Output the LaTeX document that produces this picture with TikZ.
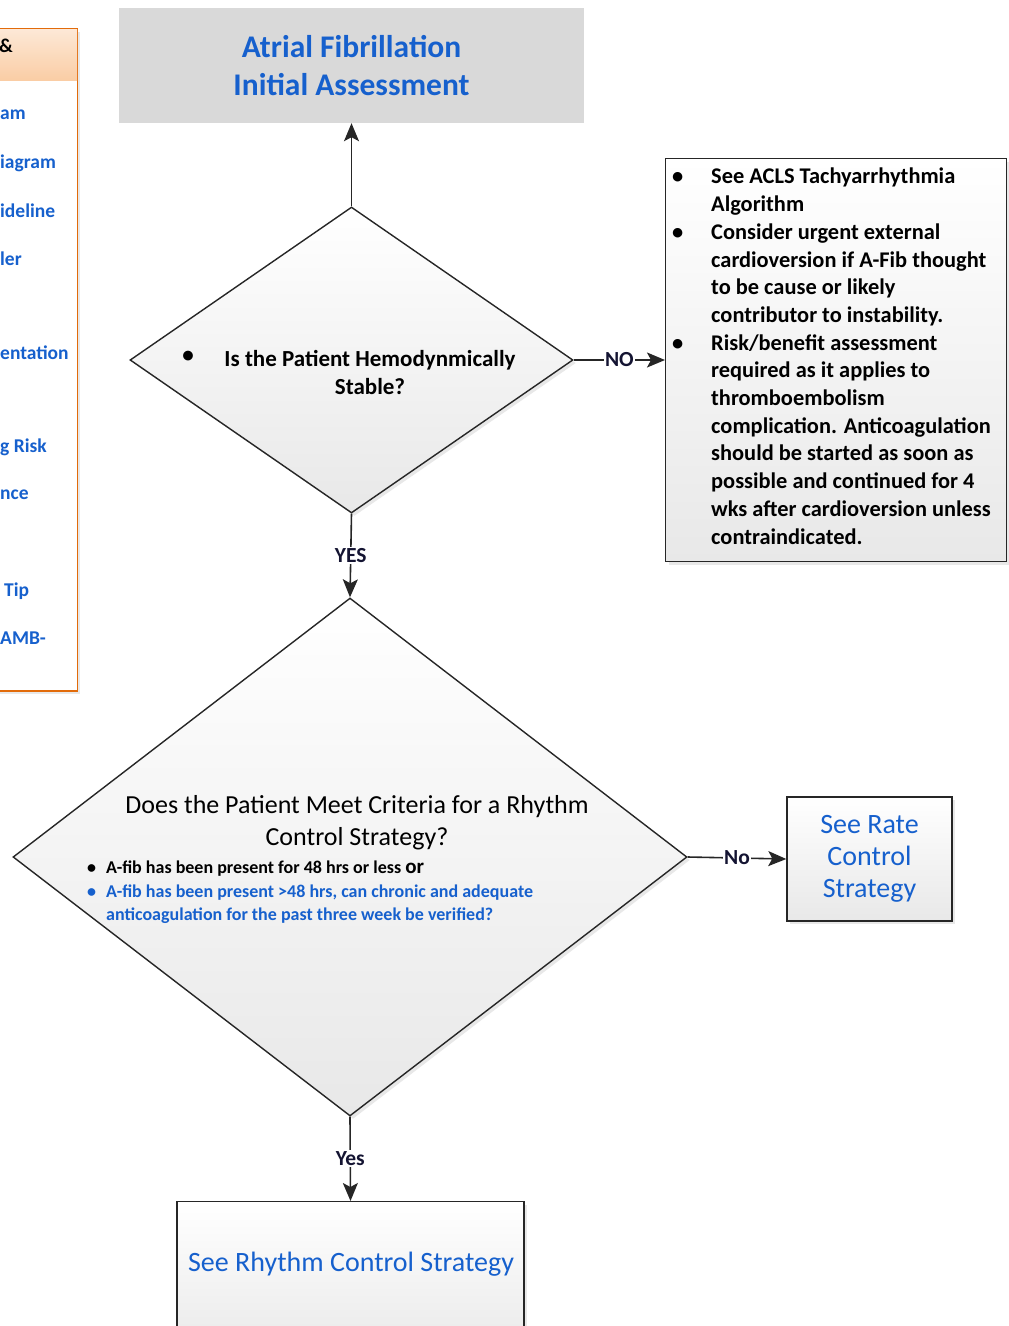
\documentclass[tikz,border=0pt]{standalone}
\usepackage{fontspec}
\setmainfont{Carlito}
\usepackage{tikz}
\usetikzlibrary{arrows.meta,shapes,calc,shadows}
\definecolor{afblue}{RGB}{22,96,205}
\definecolor{boxgray}{RGB}{217,217,217}
\definecolor{linkorange}{RGB}{226,107,10}
\definecolor{linkpeach}{RGB}{250,205,165}
\definecolor{labelink}{RGB}{20,20,50}
\tikzset{
  softshadow/.style={drop shadow={opacity=0.18, shadow xshift=3pt, shadow yshift=-3pt}},
  decision/.style={diamond, draw=black!85, line width=1.4pt, top color=white, bottom color=black!9, inner sep=0pt, softshadow},
  notebox/.style={rectangle, draw=black!85, line width=1.4pt, top color=white, bottom color=black!9, inner sep=0pt, softshadow},
  titlebox/.style={rectangle, fill=boxgray, inner sep=0pt, text=afblue, align=center, font=\fontsize{31.5}{38}\selectfont\bfseries},
  bluetext/.style={text=afblue, align=center, font=\fontsize{28}{32}\selectfont},
  qbold/.style={inner sep=0pt, font=\fontsize{23}{28}\selectfont\bfseries},
  qplain/.style={inner sep=0pt, align=center, font=\fontsize{26}{32}\selectfont},
  notetext/.style={inner sep=0pt, align=left, font=\fontsize{22.4}{27.7}\selectfont\bfseries},
  criteria/.style={inner sep=0pt, align=left, font=\fontsize{18}{23.5}\selectfont\bfseries},
  linktext/.style={anchor=west, inner sep=0pt, text=afblue, font=\fontsize{19.5}{20}\selectfont\bfseries},
  flow/.style={line width=1.6pt, draw=black!85, -{Stealth[length=18pt, width=15pt, inset=4pt]}},
  flowlabel/.style={fill=white, inner sep=1.5pt, text=labelink, font=\fontsize{21.5}{21.5}\selectfont\bfseries}
}
\newcommand{\notebullet}{\makebox[39pt][l]{\textbullet}}
\newcommand{\noteindent}{\hspace*{39pt}}
\newcommand{\critbullet}{\makebox[19pt][l]{\textbullet}}
\begin{document}
\begin{tikzpicture}[x=1pt,y=-1pt]
    \useasboundingbox (0,0) rectangle (1009,1326);
    \clip (0,0) rectangle (1009,1326);

    \node[rectangle, draw=linkorange, line width=1.5pt, fill=white, softshadow, minimum width=220pt, minimum height=662pt, anchor=north east] (links) at (78,28) {};
    \path[top color=linkpeach!45, bottom color=linkpeach] ($(links.north west)+(1,1)$) rectangle (77,80);
    \node[anchor=west, inner sep=0pt, font=\fontsize{19.5}{20}\selectfont\bfseries] (linkhead) at (-1,46) {\&};
    \foreach \x/\y/\t [count=\i] in {0/115/am, 0/163/iagram, 0/211/ideline, 0/259/ler, 0/353/entation, 0/447/g Risk, 0/495/nce, 4/591/Tip, 0/638/AMB-}
        \node[linktext] (link\i) at (\x,\y) {\t};

    \node[titlebox, minimum width=465pt, minimum height=115pt] (start) at (351.5,65.5) {Atrial Fibrillation\\Initial Assessment};

    \node[decision, minimum width=443pt, minimum height=306pt] (stable) at (351.5,360) {};
    \node[qbold] (stablebullet) at (188,357) {\textbullet};
    \node[qbold, align=center] (stabletext) at (370,372) {Is the Patient Hemodynmically\\Stable?};

    \node[notebox, minimum width=341pt, minimum height=403pt, anchor=north west] (unstable) at (665,158) {};
    \node[notetext, anchor=north west] (unstabletext) at (672,168) {\notebullet See ACLS Tachyarrhythmia\\
        \noteindent Algorithm\\
        \notebullet Consider urgent external\\
        \noteindent cardioversion if A-Fib thought\\
        \noteindent to be cause or likely\\
        \noteindent contributor to instability.\\
        \notebullet Risk/benefit assessment\\
        \noteindent required as it applies to\\
        \noteindent thromboembolism\\
        \noteindent complication. Anticoagulation\\
        \noteindent should be started as soon as\\
        \noteindent possible and continued for 4\\
        \noteindent wks after cardioversion unless\\
        \noteindent contraindicated.};

    \node[decision, minimum width=674pt, minimum height=518pt] (rhythmq) at (350,857) {};
    \node[qplain] (rhythmqtext) at (357,823) {Does the Patient Meet Criteria for a Rhythm\\Control Strategy?};
    \node[criteria, anchor=north west] (criteria) at (87,861) {\critbullet A-fib has been present for 48 hrs or less {\fontsize{21}{23.5}\selectfont or}\\
        \textcolor{afblue}{\critbullet A-fib has been present >48 hrs, can chronic and adequate}\\
        \textcolor{afblue}{\hspace*{19pt}anticoagulation for the past three week be verified?}};

    \node[notebox, minimum width=165pt, minimum height=124pt] (ratebox) at (869.5,859) {};
    \node[bluetext] (ratetext) at (869.5,859) {See Rate\\Control\\Strategy};

    \node[notebox, minimum width=347pt, minimum height=160pt, anchor=north] (rhythmbox) at (350.5,1201) {};
    \node[bluetext] (rhythmtext) at (351,1264) {See Rhythm Control Strategy};

    \draw[flow] (stable.north) -- (start.south);
    \draw[flow] (stable.east) -- node[flowlabel] (nolabel) {NO} (stable.east -| unstable.west);
    \draw[flow] (stable.south) -- node[flowlabel] (yeslabel) {YES} (rhythmq.north);
    \draw[flow] (rhythmq.east) -- node[flowlabel] (ratelabel) {No} (ratebox.west);
    \draw[flow] (rhythmq.south) -- node[flowlabel] (rhythmlabel) {Yes} (rhythmbox.north);
\end{tikzpicture}
\end{document}
